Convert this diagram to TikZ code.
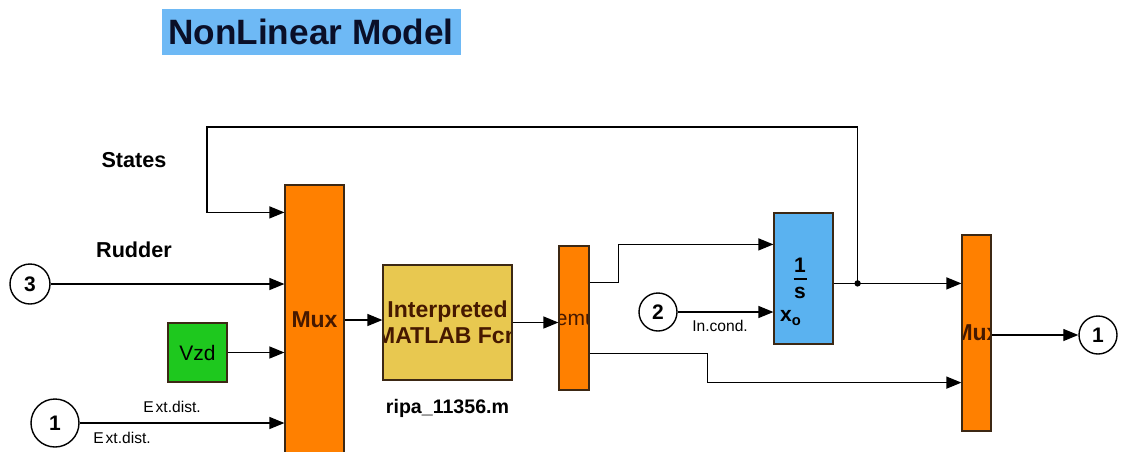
\documentclass[tikz,border=0pt]{standalone}
\usepackage{fontspec}
\setmainfont{Liberation Sans}
\usetikzlibrary{positioning,arrows.meta}
\definecolor{MuxOrange}{RGB}{255,128,0}
\definecolor{FcnYellow}{RGB}{232,200,80}
\definecolor{IntBlue}{RGB}{90,178,240}
\definecolor{TitleBlue}{RGB}{110,185,245}
\definecolor{VzdGreen}{RGB}{30,200,30}
\definecolor{BlockEdge}{RGB}{60,40,20}
\definecolor{MuxText}{RGB}{70,25,0}
\definecolor{TitleText}{RGB}{10,15,40}

\begin{document}
\begin{tikzpicture}[
    x=0.5pt, y=-0.5pt,
    block/.style={rectangle, draw=BlockEdge, line width=0.6pt, inner sep=0pt},
    muxbar/.style={block, fill=MuxOrange},
    cliptext/.style 2 args={path picture={\node[align=center, text=MuxText, font=#1] at (path picture bounding box.center) {#2};}},
    port/.style={circle, draw, line width=0.7pt, fill=white, inner sep=0pt, font=\bfseries\fontsize{10.5}{12}\selectfont},
    sig/.style={-{Triangle[length=7.5pt, width=6pt]}, line width=0.65pt},
    lbl/.style={font=\bfseries\fontsize{10.8}{12}\selectfont},
    smalllbl/.style={font=\fontsize{7.8}{9}\selectfont},
    inttext/.style={font=\bfseries\fontsize{10.5}{12}\selectfont, inner sep=0pt},
    titlebox/.style={fill=TitleBlue, text=TitleText, minimum width=149.5pt, minimum height=23pt, inner sep=0pt, font=\bfseries\fontsize{17.6}{20}\selectfont},
]
\useasboundingbox (0,0) rectangle (1123,451);
\node[titlebox] (title) at (311,32) {NonLinear Model};
\node[lbl] (states) at (134,160) {States};
\node[lbl] (rudder) at (134,250) {Rudder};

\node[muxbar, minimum width=29.5pt, minimum height=135pt, cliptext={\bfseries\fontsize{11.5}{13}\selectfont}{Mux}] (mux1) at (314.5,320) {};
\node[port, minimum size=20pt] (p3) at (30,284) {3};
\node[port, minimum size=24pt] (p1in) at (55,423) {1};
\node[block, fill=VzdGreen, minimum size=29.5pt, font=\fontsize{10.5}{12}\selectfont] (vzd) at (197.5,352.5) {Vzd};
\node[smalllbl] (extup) at (172,407) {E\kern1pt xt.dist.};
\node[smalllbl] (extdn) at (122,438) {E\kern1pt xt.dist.};

\node[block, fill=FcnYellow, minimum width=64.5pt, minimum height=57.5pt, cliptext={\bfseries\fontsize{11.5}{13}\selectfont}{Interpreted\\MATLAB Fcn}] (fcn) at (447.5,322.5) {};
\node[lbl, font=\bfseries\fontsize{9.8}{11}\selectfont, below=6pt of fcn] (fcnname) {ripa\_11356.m};
\node[muxbar, minimum width=15pt, minimum height=72pt, cliptext={\fontsize{10.5}{12}\selectfont}{Demux}] (demux) at (574,318) {};

\node[block, fill=IntBlue, minimum width=29.5pt, minimum height=65.5pt] (integ) at (803.5,278.5) {};
\node[inttext] (num) at (800,265) {1};
\node[inttext] (bar) at (800,279) {\rule{6.5pt}{0.7pt}};
\node[inttext] (den) at (800,293) {s};
\node[inttext] (xo) at (791,318) {x\textsubscript{o}};
\node[port, minimum size=19pt] (p2) at (658,312) {2};
\node[smalllbl] (incond) at (720,326) {In.cond.};

\node[muxbar, minimum width=14.5pt, minimum height=98pt, cliptext={\bfseries\fontsize{11.5}{13}\selectfont}{Mux}] (mux2) at (976.5,333) {};
\node[port, minimum size=19pt] (p1out) at (1098,335) {1};

\path (mux1.north west) ++(0,28) coordinate (m1fb);
\path (mux2.north west) ++(0,49) coordinate (m2a);
\path (mux2.south west) ++(0,-49) coordinate (m2b);
\path (integ.north west) ++(0,32) coordinate (i1);
\path (demux.north east) ++(0,37) coordinate (d1);
\path (demux.south east) ++(0,-37) coordinate (d2);
\path (integ.east |- m2a) ++(24,0) coordinate (jn);
\coordinate (fb) at (207,127);

\draw[sig] (jn) |- (fb) |- (m1fb);
\draw[sig] (p3) -- (p3 -| mux1.west);
\draw[sig] (vzd) -- (vzd -| mux1.west);
\draw[sig] (p1in) -- (p1in -| mux1.west);
\draw[sig] (mux1.east) -- (mux1.east -| fcn.west);
\draw[sig] (fcn.east) -- (fcn.east -| demux.west);
\draw[sig] (d1) -- ++(29,0) |- (i1);
\draw[sig] (d2) -- ++(118,0) |- (m2b);
\draw[sig] (p2) -- (p2 -| integ.west);
\draw[sig] (integ.east |- m2a) -- (m2a);
\fill (jn) circle (1.6pt);
\draw[sig] (mux2.east |- p1out) -- (p1out);
\end{tikzpicture}
\end{document}
